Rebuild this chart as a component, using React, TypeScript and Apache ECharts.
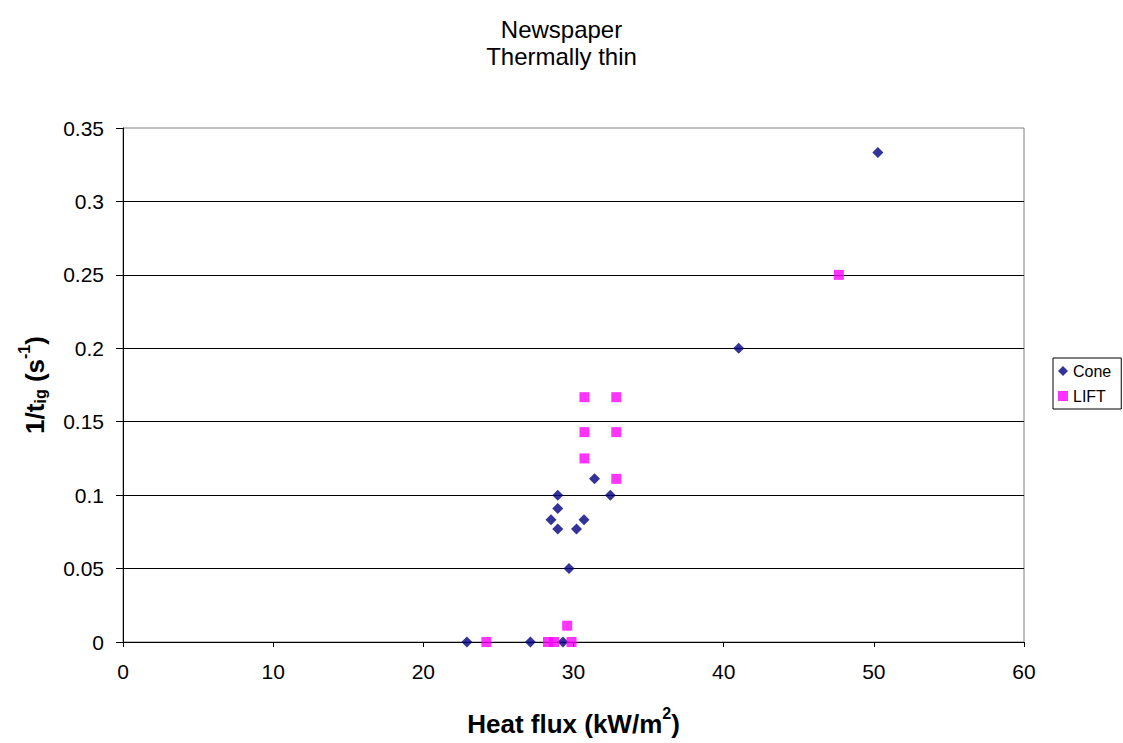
import React, { useEffect, useRef } from "react";
import * as echarts from "echarts";

const titleLines = ["Newspaper", "Thermally thin"];
const xTicks = { min: 0, max: 60, interval: 10 };
const yTicks = { min: 0, max: 0.35, interval: 0.05 };

const coneSeries: [number, number][] = [
  [22.9, 0],
  [27.13, 0],
  [29.3, 0],
  [28.95, 0.1],
  [28.95, 0.0909],
  [28.5, 0.0833],
  [28.95, 0.0769],
  [30.7, 0.0833],
  [30.2, 0.0769],
  [31.4, 0.1111],
  [32.45, 0.1],
  [29.7, 0.05],
  [41.0, 0.2],
  [50.27, 0.3333],
];

const liftSeries: [number, number][] = [
  [24.2, 0],
  [28.3, 0],
  [28.7, 0],
  [29.87, 0],
  [29.58, 0.0111],
  [30.73, 0.1667],
  [30.73, 0.1429],
  [30.73, 0.125],
  [32.85, 0.1667],
  [32.85, 0.1429],
  [32.85, 0.1111],
  [47.67, 0.25],
];

const FONT = "'Liberation Sans', Arial, sans-serif";

export default function App() {
  const ref = useRef<HTMLDivElement>(null);
  useEffect(() => {
    if (!ref.current) return;
    const chart = echarts.init(ref.current, undefined, { renderer: "svg" });
    chart.setOption({
      animation: false,
      backgroundColor: "#fff",
      textStyle: { fontFamily: FONT, color: "#000" },
      title: {
        text: titleLines.join("\n"),
        left: "center",
        top: 11,
        textStyle: {
          fontFamily: FONT,
          fontSize: 24,
          fontWeight: "normal",
          color: "#000",
          lineHeight: 27,
        },
      },
      legend: {
        orient: "vertical",
        left: 1053,
        top: 358,
        padding: [5, 10, 5, 5],
        itemWidth: 10,
        itemHeight: 10,
        itemGap: 9,
        borderColor: "#000",
        borderWidth: 1,
        textStyle: { fontFamily: FONT, fontSize: 16, color: "#000" },
        data: [
          { name: "Cone", icon: "diamond" },
          { name: "LIFT", icon: "rect" },
        ],
      },
      grid: {
        left: 123,
        top: 128,
        right: 99,
        bottom: 101,
        show: true,
        borderColor: "#808080",
        borderWidth: 1,
        containLabel: false,
        outerBoundsMode: "none",
      },
      xAxis: {
        type: "value",
        min: xTicks.min,
        max: xTicks.max,
        interval: xTicks.interval,
        axisLine: { show: true, lineStyle: { color: "#000", width: 1 } },
        axisTick: { show: true, inside: false, length: 5, lineStyle: { color: "#000" } },
        axisLabel: { fontFamily: FONT, fontSize: 21, color: "#000", margin: 19 },
        splitLine: { show: false },
        name: "{b|Heat flux (kW/m}{sup|2}{b|)}",
        nameLocation: "middle",
        nameGap: 63,
        nameTextStyle: {
          rich: {
            b: { fontFamily: FONT, fontSize: 26, fontWeight: "bold", color: "#000", verticalAlign: "bottom", lineHeight: 32 },
            sup: { fontFamily: FONT, fontSize: 16, fontWeight: "bold", color: "#000", verticalAlign: "top", lineHeight: 32 },
          },
        },
      },
      yAxis: {
        type: "value",
        min: yTicks.min,
        max: yTicks.max,
        interval: yTicks.interval,
        axisLine: { show: true, lineStyle: { color: "#000", width: 1 } },
        axisTick: { show: true, inside: false, length: 7, lineStyle: { color: "#000" } },
        axisLabel: { fontFamily: FONT, fontSize: 21, color: "#000", margin: 19 },
        splitLine: { show: true, showMaxLine: false, lineStyle: { color: "#000", width: 1 } },
        name: "{b|1/t}{sub|ig}{b| (s}{sup|-1}{b|)}",
        nameLocation: "middle",
        nameRotate: 90,
        nameGap: 75,
        nameTextStyle: {
          rich: {
            b: { fontFamily: FONT, fontSize: 26, fontWeight: "bold", color: "#000", verticalAlign: "bottom", lineHeight: 32 },
            sub: { fontFamily: FONT, fontSize: 16, fontWeight: "bold", color: "#000", verticalAlign: "bottom", lineHeight: 26 },
            sup: { fontFamily: FONT, fontSize: 16, fontWeight: "bold", color: "#000", verticalAlign: "top", lineHeight: 32 },
          },
        },
      },
      series: [
        {
          name: "Cone",
          type: "scatter",
          symbol: "diamond",
          symbolSize: 11,
          itemStyle: { color: "#000080" },
          data: coneSeries,
        },
        {
          name: "LIFT",
          type: "scatter",
          symbol: "rect",
          symbolSize: 10,
          itemStyle: { color: "#FF00FF" },
          data: liftSeries,
        },
      ],
    });
    return () => chart.dispose();
  }, []);
  return (
    <div
      ref={ref}
      style={{ position: "absolute", left: 0, top: 0, width: 1123, height: 743 }}
    />
  );
}
